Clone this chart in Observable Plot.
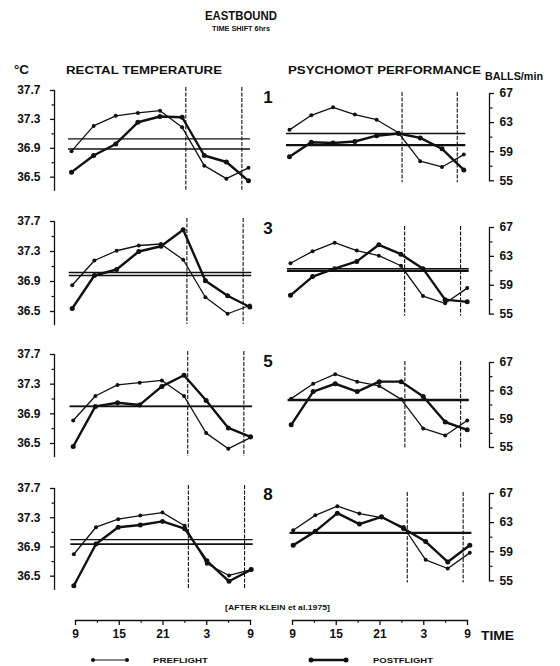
<!DOCTYPE html>
<html>
<head>
<meta charset="utf-8">
<script src="https://cdn.jsdelivr.net/npm/d3@7"></script>
<script src="https://cdn.jsdelivr.net/npm/@observablehq/plot@0.6"></script>
<style>
  html, body { margin: 0; padding: 0; background: #fff; }
  #chart { position: relative; width: 560px; height: 666px; overflow: hidden; background: #fff; }
  #chart svg { position: absolute; left: 0; overflow: visible; }
</style>
</head>
<body>
<div id="chart"></div>
<script>
// ---------- data ----------
const hours = [9, 12, 15, 18, 21, 24, 27, 30, 33];
const dayLabels = ["1", "3", "5", "8"];
const timeTicks = [9, 15, 21, 27, 33];
const timeTickLabels = ["9", "15", "21", "3", "9"];
const timeMinorTicks = [12, 18, 24, 30];
const sleepMarks = [24.5, 32.1];
const tempTicks = [36.5, 36.9, 37.3, 37.7];
const tempMinorTicks = [36.7, 37.1, 37.5];
const perfTicks = [55, 59, 63, 67];
const perfMinorTicks = [57, 61, 65];

// rectal temperature (°C), one array per post-flight day
const tempPreflight = [
  [36.86, 37.21, 37.35, 37.39, 37.42, 37.19, 36.66, 36.48, 36.63],
  [36.85, 37.18, 37.31, 37.38, 37.40, 37.19, 36.69, 36.47, 36.58],
  [36.81, 37.14, 37.29, 37.32, 37.35, 37.14, 36.64, 36.43, 36.58],
  [36.80, 37.17, 37.28, 37.33, 37.37, 37.19, 36.67, 36.51, 36.59]
];
const tempPostflight = [
  [36.57, 36.80, 36.96, 37.26, 37.34, 37.33, 36.80, 36.71, 36.45],
  [36.54, 36.98, 37.06, 37.30, 37.37, 37.59, 36.91, 36.71, 36.56],
  [36.46, 37.00, 37.05, 37.02, 37.27, 37.42, 37.08, 36.71, 36.59],
  [36.37, 36.94, 37.17, 37.20, 37.25, 37.15, 36.71, 36.43, 36.59]
];
const tempMesorPre = [37.03, 37.02, 37.0, 37.0];
const tempMesorPost = [36.89, 36.98, 37.0, 36.94];

// psychomotor performance (balls/min)
const perfPreflight = [
  [62.0, 64.0, 65.1, 64.1, 63.4, 61.6, 57.7, 56.9, 58.6],
  [62.05, 63.7, 64.9, 63.8, 63.1, 61.7, 57.5, 56.5, 58.6],
  [61.9, 64.0, 65.35, 64.3, 63.7, 61.8, 57.7, 56.7, 58.8],
  [61.96, 64.0, 65.26, 64.25, 63.7, 62.4, 57.9, 56.7, 58.85]
];
const perfPostflight = [
  [58.3, 60.3, 60.2, 60.4, 61.2, 61.5, 60.9, 59.4, 56.5],
  [57.6, 60.2, 61.3, 62.3, 64.6, 63.3, 61.3, 57.0, 56.7],
  [58.2, 62.9, 64.0, 62.9, 64.3, 64.3, 62.2, 58.6, 57.5],
  [59.9, 61.8, 64.3, 62.8, 63.8, 62.2, 60.4, 57.6, 59.9]
];
const perfMesorPre = [61.5, 61.3, 61.7, 61.6];
const perfMesorPost = [59.9, 61.0, 61.7, 61.6];

// ---------- layout ----------
const W = 560;
const ink = "#111";
const FONT = "'Liberation Sans', Arial, Helvetica, sans-serif";
const leftLayout = [
  {T: 90, B: 176.7, x0: 71, x1: 248},
  {T: 221, B: 311, x0: 71.7, x1: 249.3},
  {T: 354.3, B: 443.3, x0: 72.7, x1: 250},
  {T: 488, B: 575.7, x0: 73.3, x1: 250.7}
];
const rightLayout = [
  {T: 92.7, B: 180, x0: 289, x1: 463.3},
  {T: 226.7, B: 313.3, x0: 290, x1: 466.7},
  {T: 362.3, B: 447.3, x0: 290.7, x1: 466.7},
  {T: 493.3, B: 580.7, x0: 292.7, x1: 469.3}
];
const axisXLeft = 54, axisXRight = 489;
const chart = document.getElementById("chart");
const baseStyle = {background: "transparent", overflow: "visible", fontFamily: FONT, fontWeight: "bold", color: ink, maxWidth: "none"};

function panel(L, isLeft, pre, post, mPre, mPost) {
  const pad = 14, ext = isLeft ? 13 : 0;
  const top = L.T - pad;
  const height = (L.B - L.T) + 2 * pad + ext;
  const rows = hours.map((h, j) => ({h, pre: pre[j], post: post[j]}));
  const marks = [
    Plot.frame({anchor: isLeft ? "left" : "right", stroke: ink, strokeWidth: 1.3}),
    Plot.axisY({anchor: isLeft ? "left" : "right", ticks: isLeft ? tempTicks : perfTicks,
      tickFormat: isLeft ? (d => d.toFixed(1)) : (d => String(d)),
      tickSize: 4, tickPadding: isLeft ? 10 : 6, fontSize: 12, fontWeight: "bold", label: null, stroke: ink, strokeWidth: 1.3}),
    Plot.axisY({anchor: isLeft ? "left" : "right", ticks: isLeft ? tempMinorTicks : perfMinorTicks,
      tickFormat: () => "", tickSize: 2.5, label: null, stroke: ink, strokeWidth: 1.2}),
    Plot.ruleX(sleepMarks, {stroke: ink, strokeWidth: 1.1, strokeDasharray: "4,1.5",
      insetTop: isLeft ? -3 : -1, insetBottom: isLeft ? 0 : -2}),
    Plot.ruleY([mPre], {y: d => d, x1: 9, x2: 33, stroke: ink, strokeWidth: 1.4, insetLeft: -3, insetRight: -2}),
    Plot.ruleY([mPost], {y: d => d, x1: 9, x2: 33, stroke: ink, strokeWidth: isLeft ? 1.7 : 2.4, insetLeft: -3, insetRight: -2}),
    Plot.line(rows, {x: "h", y: "pre", stroke: ink, strokeWidth: 1.3}),
    Plot.dot(rows, {x: "h", y: "pre", r: 2, fill: ink, stroke: "none"}),
    Plot.line(rows, {x: "h", y: "post", stroke: ink, strokeWidth: 2.4}),
    Plot.dot(rows, {x: "h", y: "post", r: 2.5, fill: ink, stroke: "none"})
  ];
  const svg = Plot.plot({
    width: W, height,
    marginTop: pad, marginBottom: pad,
    marginLeft: isLeft ? axisXLeft : 270,
    marginRight: isLeft ? W - 262 : W - axisXRight,
    x: {domain: [9, 33], range: [L.x0, L.x1], axis: null},
    y: {domain: isLeft ? [36.5, 37.7] : [55, 67], range: [L.B - top, L.T - top], label: null},
    style: baseStyle,
    marks
  });
  svg.style.top = top + "px";
  svg.style.left = "0px";
  chart.appendChild(svg);
}

for (let i = 0; i < 4; i++) {
  panel(leftLayout[i], true, tempPreflight[i], tempPostflight[i], tempMesorPre[i], tempMesorPost[i]);
  panel(rightLayout[i], false, perfPreflight[i], perfPostflight[i], perfMesorPre[i], perfMesorPost[i]);
}

// bottom time axes
function timeAxis(x0, x1) {
  const top = 600;
  const svg = Plot.plot({
    width: W, height: 50, marginTop: 0, marginBottom: 30, marginLeft: x0, marginRight: W - x1,
    x: {domain: [9, 33], range: [x0, x1], label: null},
    style: baseStyle,
    marks: [
      Plot.frame({anchor: "bottom", stroke: ink, strokeWidth: 1.3}),
      Plot.axisX({anchor: "bottom", ticks: timeTicks, tickFormat: d => timeTickLabels[timeTicks.indexOf(d)],
        tickSize: 5, tickPadding: 4, fontSize: 12, fontWeight: "bold", label: null, stroke: ink, strokeWidth: 1.3}),
      Plot.axisX({anchor: "bottom", ticks: timeMinorTicks, tickFormat: () => "", tickSize: 3, label: null, stroke: ink})
    ]
  });
  svg.style.top = top + "px";
  chart.appendChild(svg);
}
timeAxis(75, 250);
timeAxis(292, 467);

// ---------- text & legend overlay ----------
const ov = d3.select(chart).append("svg")
  .attr("width", W).attr("height", 666)
  .style("top", "0px").style("left", "0px")
  .attr("font-family", FONT).attr("font-weight", "bold").attr("fill", ink);

function txt(s, x, y, size, len, anchor = "start") {
  const t = ov.append("text").attr("x", x).attr("y", y).attr("font-size", size)
    .attr("text-anchor", anchor).text(s);
  if (len) t.attr("textLength", len).attr("lengthAdjust", "spacingAndGlyphs");
  return t;
}
txt("EASTBOUND", 205, 20, 12, 72);
txt("TIME SHIFT 6hrs", 212, 31, 7, 58);
txt("°C", 14, 74, 12, 15);
txt("RECTAL  TEMPERATURE", 66, 74, 11.5, 156);
txt("PSYCHOMOT PERFORMANCE", 288, 74, 11.5, 193);
txt("BALLS/min", 485, 80, 10, 58);
const numY = [103, 234, 367, 500];
dayLabels.forEach((d, i) => txt(d, 268, numY[i], 17, null, "middle"));
txt("[AFTER  KLEIN et al.1975]", 225, 610, 7.5, 105);
txt("TIME", 481, 640, 12, 33);
txt("PREFLIGHT", 153, 663, 8, 55);
txt("POSTFLIGHT", 373, 663, 8, 60);

function swatch(x0, x1, y, w, r) {
  ov.append("line").attr("x1", x0).attr("x2", x1).attr("y1", y).attr("y2", y)
    .attr("stroke", ink).attr("stroke-width", w);
  ov.append("circle").attr("cx", x0).attr("cy", y).attr("r", r);
  ov.append("circle").attr("cx", x1).attr("cy", y).attr("r", r);
}
swatch(93, 127, 660, 1.2, 2);
swatch(311, 346, 660, 2.6, 2.5);
</script>
</body>
</html>
